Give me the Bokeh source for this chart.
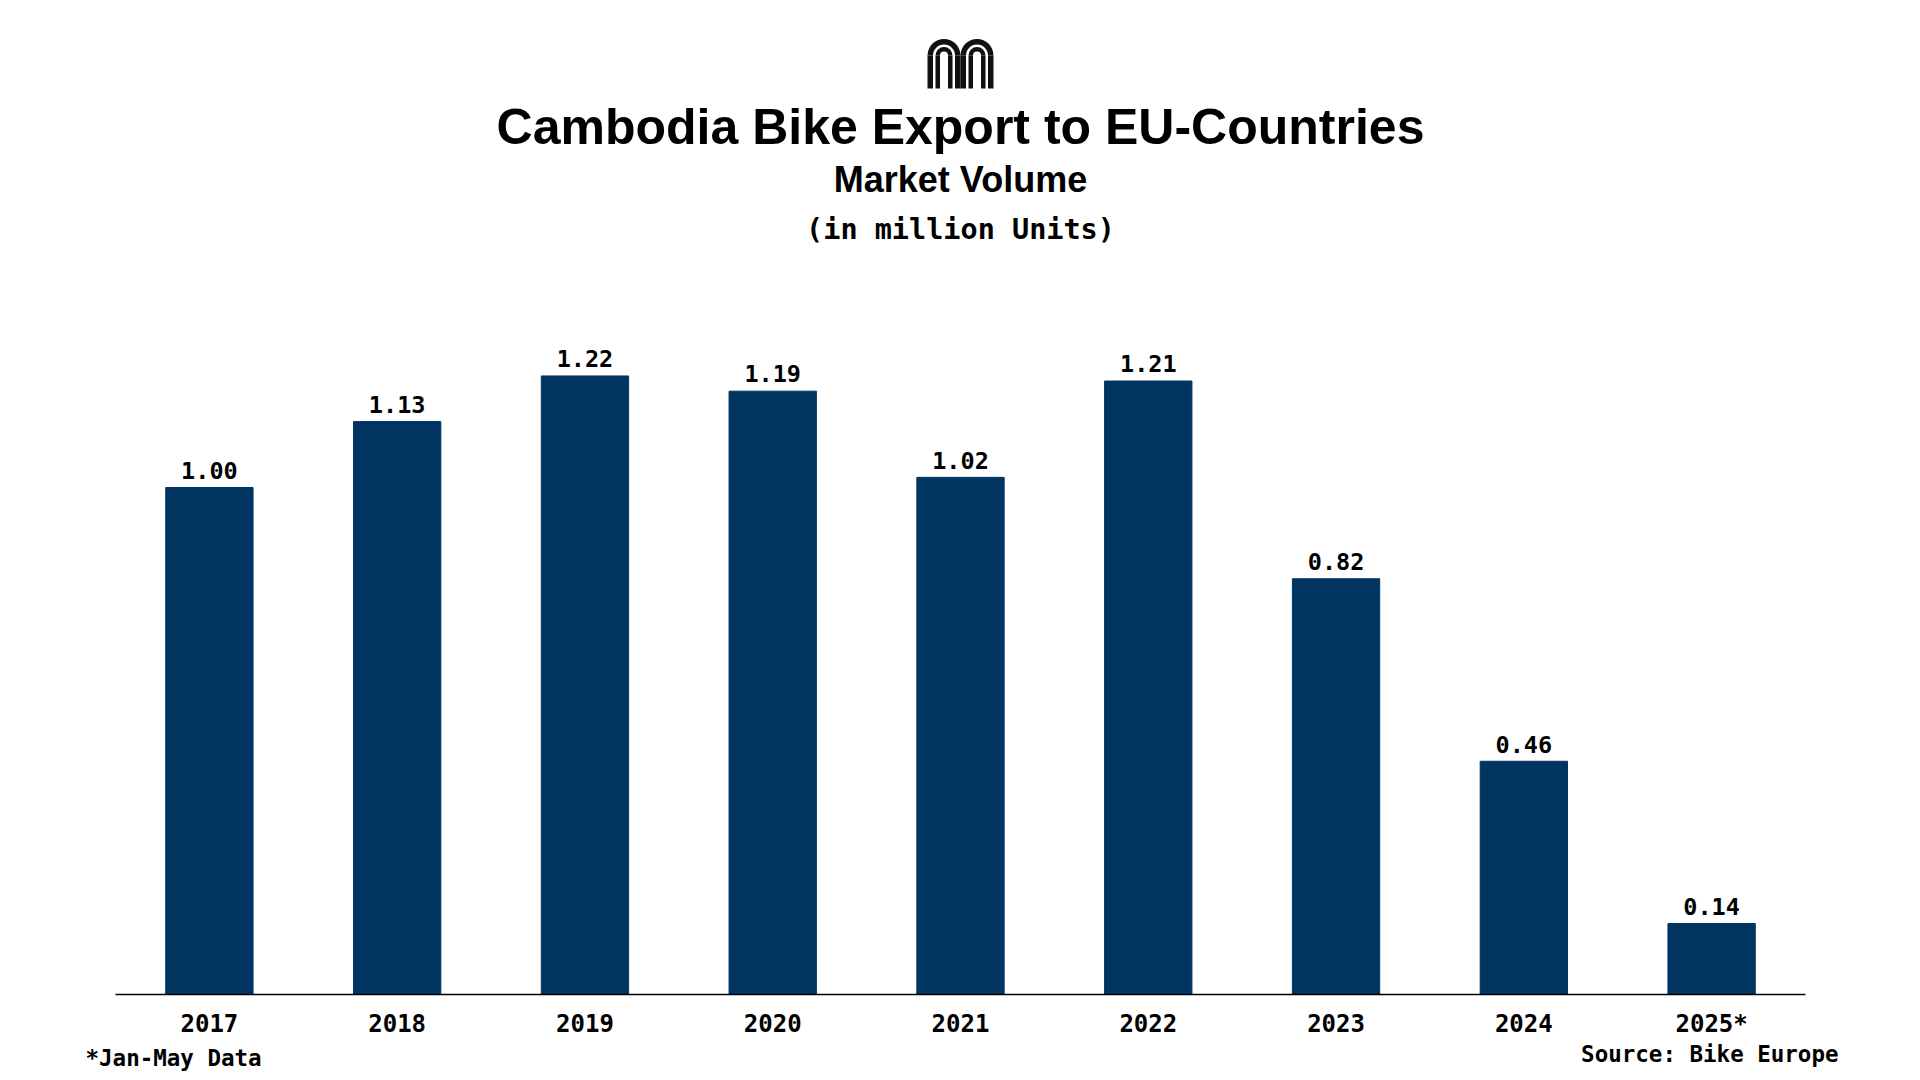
import math
from bokeh.plotting import figure
from bokeh.layouts import column
from bokeh.models import Range1d, FixedTicker, Label
from bokeh.core.properties import value
from bokeh.embed import file_html
from bokeh.resources import INLINE

# ---------------- data ----------------
years = ["2017", "2018", "2019", "2020", "2021", "2022", "2023", "2024", "2025*"]
volume = [1.00, 1.13, 1.22, 1.19, 1.02, 1.21, 0.82, 0.46, 0.14]
value_labels = ["1.00", "1.13", "1.22", "1.19", "1.02", "1.21", "0.82", "0.46", "0.14"]

title_text = "Cambodia Bike Export to EU-Countries"
subtitle_text = "Market Volume"
unit_text = "(in million Units)"
note_text = "*Jan-May Data"
source_text = "Source: Bike Europe"

# ---------------- layout ----------------
W = 1920
H_MAIN, H_FOOT = 1040, 40
BL, BR, BT, BB = 115, 115, 20, 46
FRAME_LEFT = BL
FRAME_BOTTOM = H_MAIN - BB          # 994
FRAME_W = W - BL - BR
FRAME_H = H_MAIN - BT - BB
PX_PER_UNIT = 507.0
Y_END = FRAME_H / PX_PER_UNIT
N = len(years)
PX_PER_CAT = FRAME_W / N
BASE_SHIFT = 0.37  # renderer places text ~0.37em lower than the given anchor


def xd(px):
    return -0.5 + (px - FRAME_LEFT) / PX_PER_CAT


def yd(py):
    return (FRAME_BOTTOM - py) / PX_PER_UNIT


def yb(baseline_py, size):
    return yd(baseline_py - BASE_SHIFT * size)


BAR_COLOR = "#023462"
MONO = "DejaVu Sans Mono"
SANS = "Liberation Sans"

p = figure(width=W, height=H_MAIN, output_backend="svg", toolbar_location=None,
           x_range=Range1d(-0.5, N - 0.5), y_range=Range1d(0, Y_END),
           y_axis_location=None, min_border_left=BL, min_border_right=BR,
           min_border_top=BT, min_border_bottom=BB)
p.frame_align = False
p.outline_line_color = None
p.grid.visible = False
p.background_fill_color = "white"
p.border_fill_color = "white"

idx = list(range(N))
p.vbar(x=idx, top=volume, width=0.465, color=BAR_COLOR)

VAL_SIZE = 23.5
p.text(x=idx, y=volume, text=value_labels, text_align="center",
       text_baseline="alphabetic", y_offset=-(8.5 + BASE_SHIFT * VAL_SIZE),
       text_font=value(MONO), text_font_style="bold",
       text_font_size=f"{VAL_SIZE}px", text_color="black")

ax = p.xaxis[0]
ax.ticker = FixedTicker(ticks=idx)
ax.major_label_overrides = {i: y for i, y in enumerate(years)}
ax.major_tick_line_color = None
ax.minor_tick_line_color = None
ax.axis_line_color = "black"
ax.axis_line_width = 1.5
ax.major_label_text_font = MONO
ax.major_label_text_font_style = "bold"
ax.major_label_text_font_size = "24px"
ax.major_label_text_color = "black"
ax.major_label_standoff = 9

# ---------------- titles ----------------
cx = xd(960)


def add_label(x, baseline, text, font, size, align):
    p.add_layout(Label(x=x, y=yb(baseline, size), text=text, text_align=align,
                       text_baseline="alphabetic", text_font=font,
                       text_font_style="bold", text_font_size=f"{size}px",
                       text_color="black"))


add_label(cx, 145, title_text, SANS, 50, "center")
add_label(cx, 192, subtitle_text, SANS, 36, "center")
add_label(cx, 240, unit_text, MONO, 28.5, "center")

# ---------------- logo (two double-stroked arches) ----------------
LOGO = "#111111"
arch_cx = [943.5, 976.5]
arch_cy = 55.0
leg_bottom = 88
rings = [(16.5, 11.0), (8.5, 4.0)]
for acx in arch_cx:
    for ro, ri in rings:
        p.annular_wedge(x=[xd(acx)], y=[yd(arch_cy)], inner_radius=ri,
                        outer_radius=ro, inner_radius_units="screen",
                        outer_radius_units="screen", start_angle=0,
                        end_angle=math.pi, color=LOGO, line_color=None)
        p.quad(left=[xd(acx - ro), xd(acx + ri)],
               right=[xd(acx - ri), xd(acx + ro)],
               top=[yd(arch_cy)] * 2, bottom=[yd(leg_bottom)] * 2,
               color=LOGO, line_color=None)

# ---------------- footer (notes) ----------------
f = figure(width=W, height=H_FOOT, output_backend="svg", toolbar_location=None,
           x_range=Range1d(0, W), y_range=Range1d(0, H_FOOT),
           x_axis_location=None, y_axis_location=None,
           min_border_left=0, min_border_right=0, min_border_top=0,
           min_border_bottom=0)
f.frame_align = False
f.outline_line_color = None
f.grid.visible = False
f.background_fill_color = "white"
f.border_fill_color = "white"

FOOT_SIZE = 22.5


def fy(baseline_page):
    local = baseline_page - H_MAIN
    return H_FOOT - (local - BASE_SHIFT * FOOT_SIZE)


f.text(x=[85], y=[fy(1066)], text=[note_text], text_align="left",
       text_baseline="alphabetic", text_font=value(MONO), text_font_style="bold",
       text_font_size=f"{FOOT_SIZE}px", text_color="black")
f.text(x=[1838], y=[fy(1062)], text=[source_text], text_align="right",
       text_baseline="alphabetic", text_font=value(MONO), text_font_style="bold",
       text_font_size=f"{FOOT_SIZE}px", text_color="black")

layout = column(p, f, spacing=0)
open("out.html", "w").write(file_html(layout, INLINE))
